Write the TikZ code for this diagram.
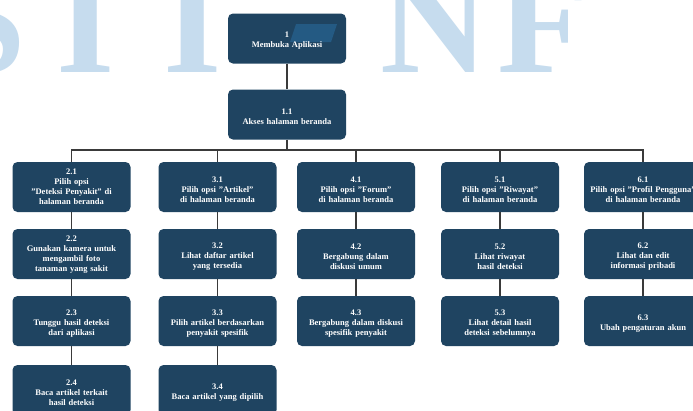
\documentclass[tikz,border=0pt]{standalone}
\usepackage{fontspec}
\setmainfont{Liberation Serif}
\definecolor{boxblue}{HTML}{1F4461}
\definecolor{markblue}{HTML}{C6DCEE}
\definecolor{slantblue}{HTML}{245A83}
\definecolor{wire}{HTML}{3A3A3A}
\tikzset{
  steptext/.style={inner sep=0pt, text=white, text width=116pt, align=center,
    font=\bfseries\fontsize{8.5}{10}\selectfont,
    execute at begin node={\rule{0pt}{10.5pt}}},
  stepbox/.style={steptext, fill=boxblue, rounded corners=5pt,
    minimum width=118pt, minimum height=50pt},
  % four-line labels sit a little higher in their boxes
  fourline/.style={execute at begin node={},
    execute at end node={\rule[-6pt]{0pt}{6pt}}},
  conn/.style={draw=wire, line width=1.1pt},
  wmark/.style={text=markblue, inner sep=0pt, anchor=base west,
    font=\bfseries\fontsize{150}{150}\selectfont}
}
\begin{document}
\begin{tikzpicture}[x=1pt,y=-1pt]
\useasboundingbox (0,0) rectangle (693,410);
\clip (0,0) rectangle (693,410);
\fill[white] (0,0) rectangle (693,410);

% background lettering
\node[wmark] (wS) at (-58,72) {S};
\node[wmark] (wI1) at (56,72) {I};
\node[wmark] (wI2) at (163,72) {I};
\node[wmark] (wN) at (380,72) {N};
\node[wmark] (wF) at (497,72) {F};

% top of the hierarchy
\node[stepbox, execute at begin node={}] (n1) at (287,38.5) {};
\fill[slantblue] (296,24) -- (337,24) -- (331,42) -- (290,42) -- cycle;
\node[steptext] (n1t) at (n1.center) {1\\Membuka Aplikasi};
\node[stepbox] (n11) at (287,114.5) {1.1\\Akses halaman beranda};
\coordinate (bus) at (287,150);

% column 2
\node[stepbox, fourline] (n21) at (71.5,187) {2.1\\Pilih opsi\\"Deteksi Penyakit" di\\halaman beranda};
\node[stepbox, fourline] (n22) at (71.5,254) {2.2\\Gunakan kamera untuk\\mengambil foto\\tanaman yang sakit};
\node[stepbox] (n23) at (71.5,321) {2.3\\Tunggu hasil deteksi\\dari aplikasi};
\node[stepbox] (n24) at (71.5,390) {2.4\\Baca artikel terkait\\hasil deteksi};

% column 3
\node[stepbox] (n31) at (217.5,187) {3.1\\Pilih opsi "Artikel"\\di halaman beranda};
\node[stepbox] (n32) at (217.5,254) {3.2\\Lihat daftar artikel\\yang tersedia};
\node[stepbox] (n33) at (217.5,321) {3.3\\Pilih artikel berdasarkan\\penyakit spesifik};
\node[stepbox] (n34) at (217.5,390) {3.4\\Baca artikel yang dipilih};

% column 4
\node[stepbox] (n41) at (356,187) {4.1\\Pilih opsi "Forum"\\di halaman beranda};
\node[stepbox] (n42) at (356,254) {4.2\\Bergabung dalam\\diskusi umum};
\node[stepbox] (n43) at (356,321) {4.3\\Bergabung dalam diskusi\\spesifik penyakit};

% column 5
\node[stepbox] (n51) at (500,187) {5.1\\Pilih opsi "Riwayat"\\di halaman beranda};
\node[stepbox] (n52) at (500,254) {5.2\\Lihat riwayat\\hasil deteksi};
\node[stepbox] (n53) at (500,321) {5.3\\Lihat detail hasil\\deteksi sebelumnya};

% column 6
\node[stepbox] (n61) at (643,187) {6.1\\Pilih opsi "Profil Pengguna"\\di halaman beranda};
\node[stepbox] (n62) at (643,254) {6.2\\Lihat dan edit\\informasi pribadi};
\node[stepbox] (n63) at (643,321) {6.3\\Ubah pengaturan akun};

% connectors
\draw[conn] (n1) -- (n11);
\draw[conn] (n11.south) -- (bus);
\draw[conn] (n21.north) |- (bus) -| (n61.north);
\draw[conn] (n31.north) -- (n31.north |- bus);
\draw[conn] (n41.north) -- (n41.north |- bus);
\draw[conn] (n51.north) -- (n51.north |- bus);
\draw[conn] (n21) -- (n22);
\draw[conn] (n22) -- (n23);
\draw[conn] (n23) -- (n24);
\draw[conn] (n31) -- (n32);
\draw[conn] (n32) -- (n33);
\draw[conn] (n33) -- (n34);
\draw[conn] (n41) -- (n42);
\draw[conn] (n42) -- (n43);
\draw[conn] (n51) -- (n52);
\draw[conn] (n52) -- (n53);
\draw[conn] (n61) -- (n62);
\draw[conn] (n62) -- (n63);
\end{tikzpicture}
\end{document}
